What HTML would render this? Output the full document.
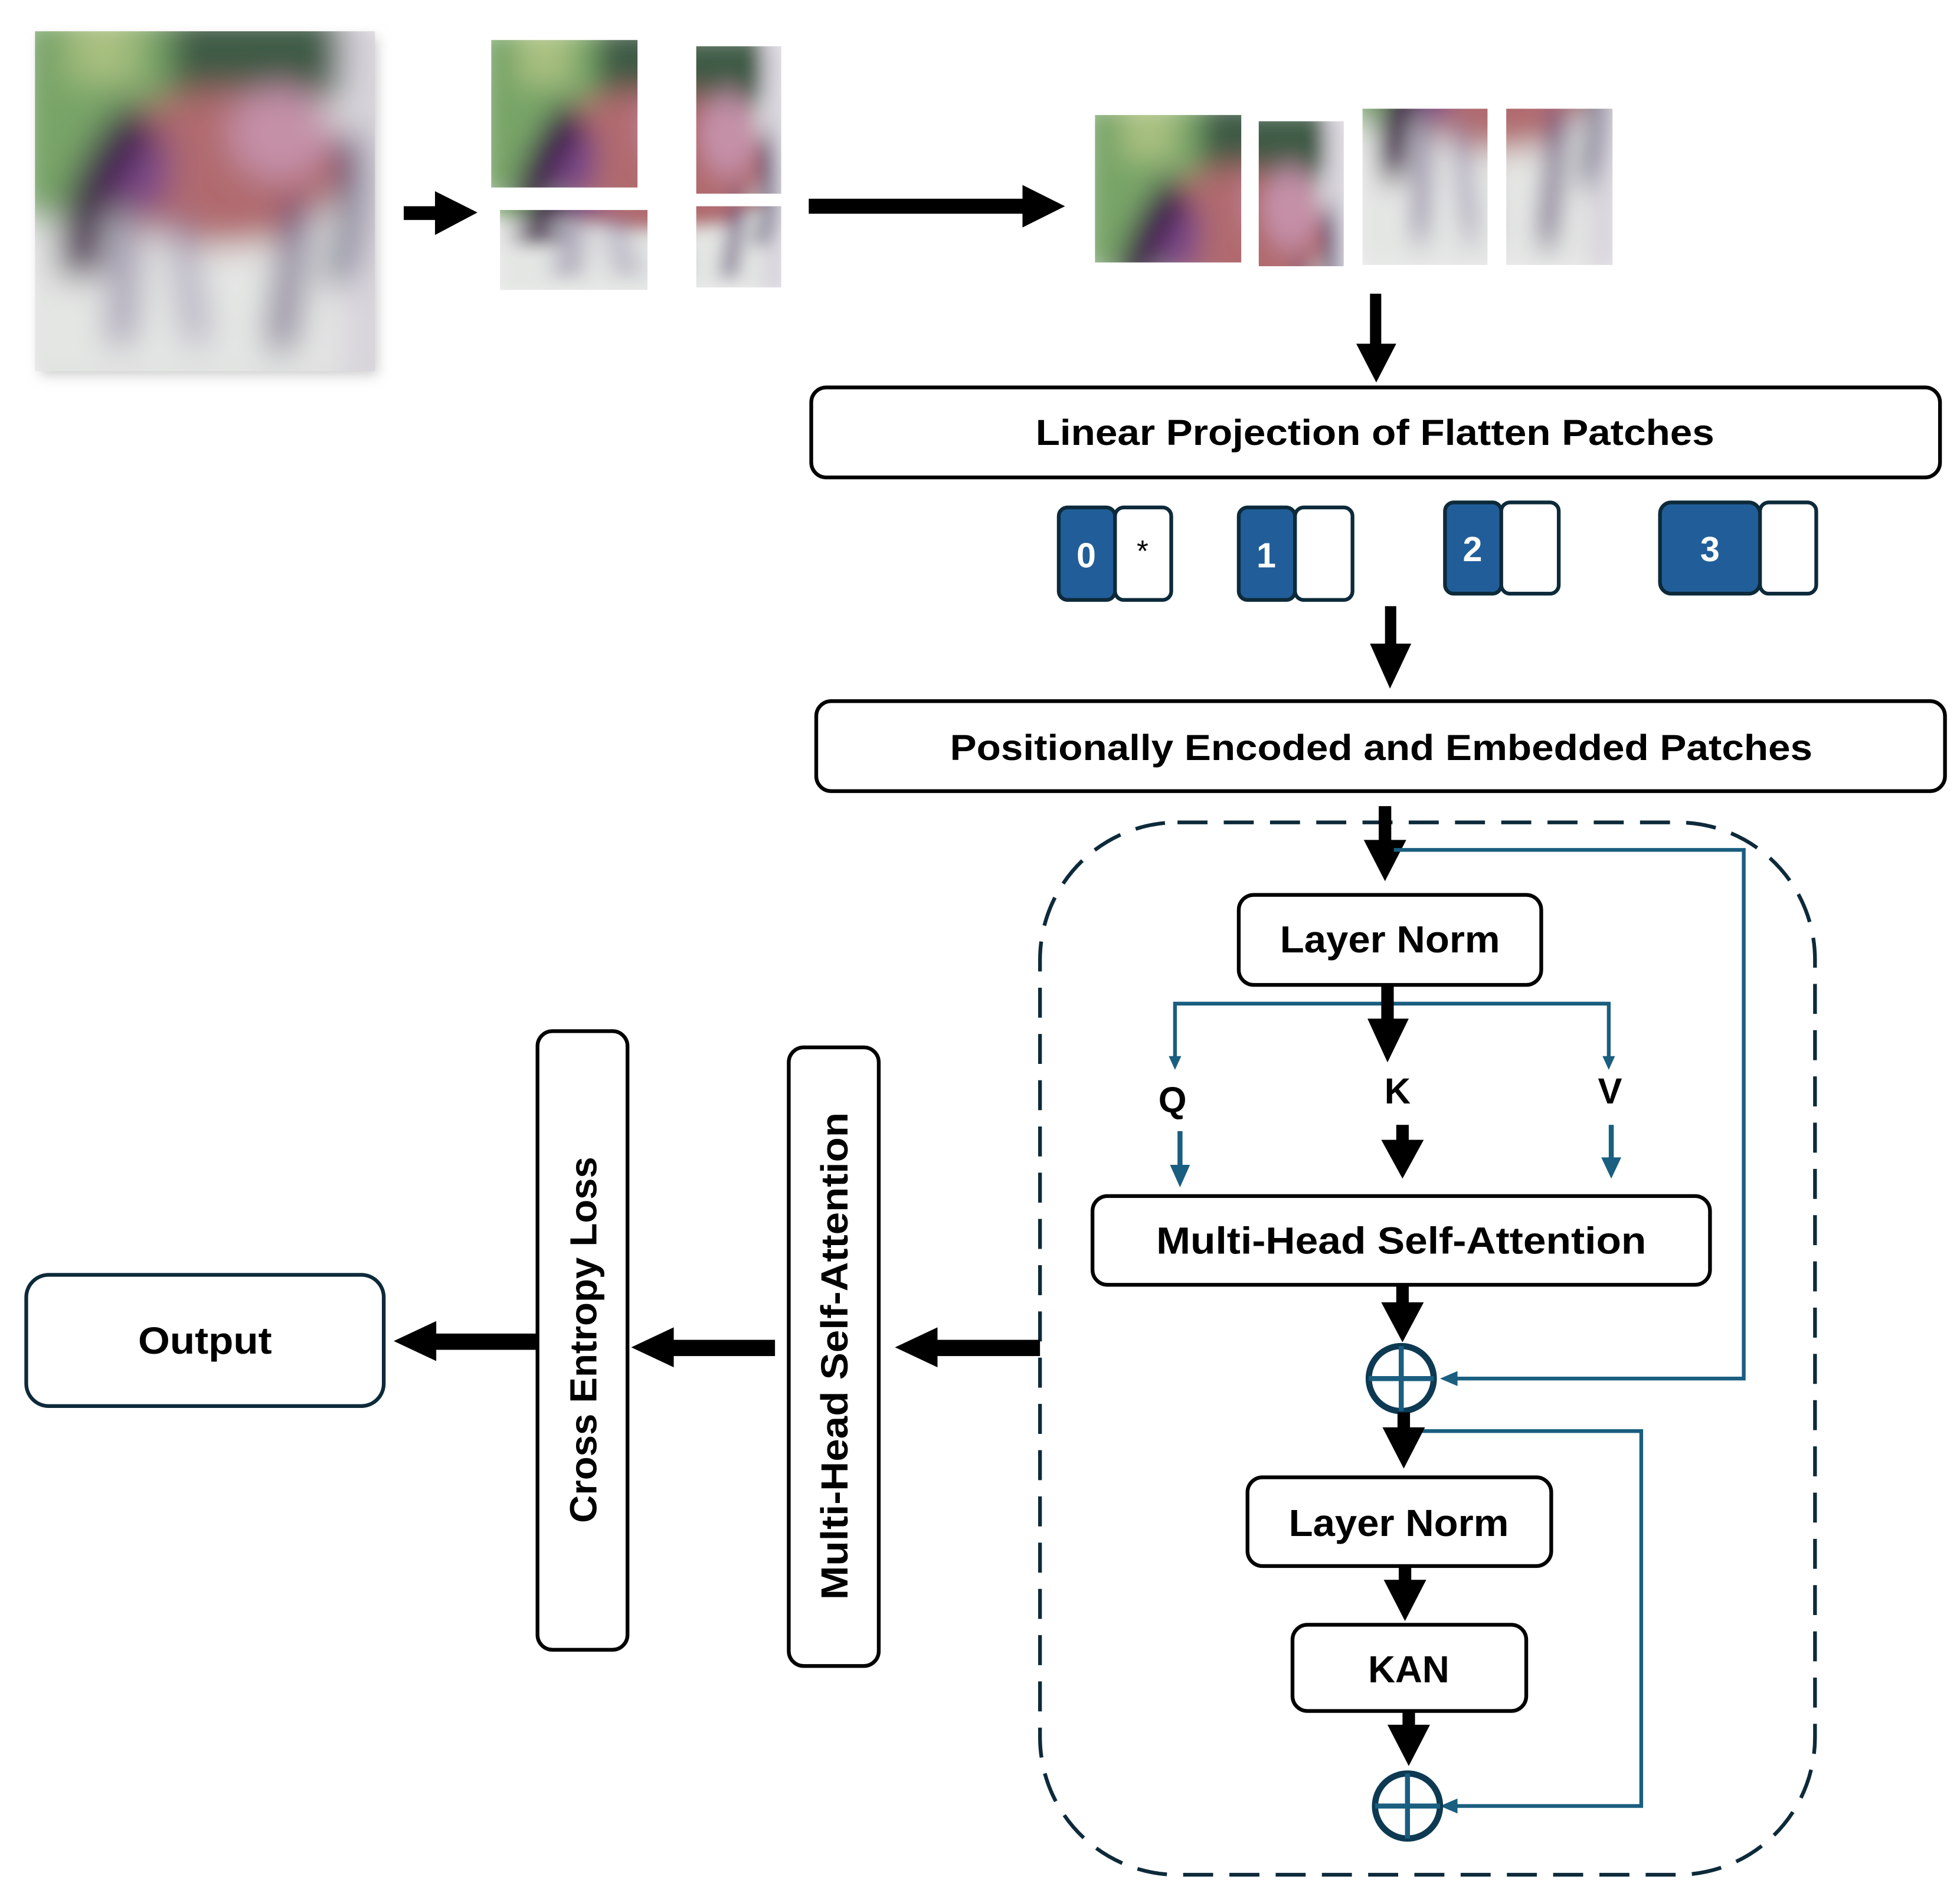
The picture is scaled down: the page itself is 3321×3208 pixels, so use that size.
<!DOCTYPE html>
<html><head><meta charset="utf-8"><style>
html,body{margin:0;padding:0;background:#fff}
svg{display:block}
text{font-family:"Liberation Sans",sans-serif;font-weight:bold;fill:#000}
</style></head><body>
<svg width="3321" height="3208" viewBox="0 0 1568 1514.6" preserveAspectRatio="none" xmlns="http://www.w3.org/2000/svg">
<defs>
<filter id="bl" x="-20%" y="-20%" width="140%" height="140%"><feGaussianBlur stdDeviation="5"/></filter>
<g id="horse">
 <g filter="url(#bl)">
 <rect x="-5" y="-5" width="110" height="110" fill="#e4e6e4"/>
 <rect x="-5" y="-5" width="45" height="60" fill="#78a468"/>
 <rect x="10" y="-5" width="20" height="20" fill="#a8c080"/>
 <rect x="40" y="-5" width="55" height="25" fill="#3e5a44"/>
 <rect x="90" y="-5" width="15" height="110" fill="#d8d4dc"/>
 <ellipse cx="55" cy="40" rx="36" ry="23" fill="#b06a6e"/>
 <ellipse cx="72" cy="30" rx="15" ry="14" fill="#c490a8"/>
 <ellipse cx="30" cy="40" rx="10" ry="14" fill="#7a4a88"/>
 <path d="M32 25 Q12 45 14 72" stroke="#3f1e4a" stroke-width="13" fill="none"/>
 <path d="M28 55 L25 92" stroke="#7c6a98" stroke-width="6" fill="none"/>
 <path d="M42 55 L48 92" stroke="#8d82a8" stroke-width="5" fill="none"/>
 <path d="M78 50 L72 94" stroke="#5a4278" stroke-width="7" fill="none"/>
 <path d="M92 30 Q96 55 88 74" stroke="#2e2a66" stroke-width="6" fill="none"/>
 </g>
</g>
</defs>

<rect x="32" y="30" width="270" height="270" fill="#ccc" filter="url(#bl)"/>
<svg x="28" y="25" width="272" height="272" viewBox="0 0 100 100" preserveAspectRatio="none"><use href="#horse"/></svg>

<svg x="393" y="32" width="117" height="118" viewBox="0 0 55 50" preserveAspectRatio="none"><use href="#horse"/></svg>
<svg x="557" y="37" width="68" height="118" viewBox="55 0 45 50" preserveAspectRatio="none"><use href="#horse"/></svg>
<svg x="400" y="168" width="118" height="64" viewBox="0 50 55 50" preserveAspectRatio="none"><use href="#horse"/></svg>
<svg x="557" y="165" width="68" height="65" viewBox="55 50 45 50" preserveAspectRatio="none"><use href="#horse"/></svg>

<svg x="876" y="92" width="117" height="118" viewBox="0 0 55 50" preserveAspectRatio="none"><use href="#horse"/></svg>
<svg x="1007" y="97" width="68" height="116" viewBox="55 0 45 50" preserveAspectRatio="none"><use href="#horse"/></svg>
<svg x="1090" y="87" width="100" height="125" viewBox="0 50 55 50" preserveAspectRatio="none"><use href="#horse"/></svg>
<svg x="1205" y="87" width="85" height="125" viewBox="55 50 45 50" preserveAspectRatio="none"><use href="#horse"/></svg>

<rect x="323" y="165" width="30" height="11" fill="#000"/>
<polygon points="348,153 382,170 348,188" fill="#000"/>
<rect x="647" y="159" width="178" height="12" fill="#000"/>
<polygon points="818,148 852,165 818,182" fill="#000"/>
<rect x="1096" y="235" width="9" height="45" fill="#000"/>
<polygon points="1085,275 1117,275 1101,306" fill="#000"/>

<rect x="649" y="310" width="903" height="72" rx="12" fill="#fff" stroke="#000" stroke-width="3"/>
<text x="1100" y="356" font-size="29" text-anchor="middle" textLength="543" lengthAdjust="spacingAndGlyphs">Linear Projection of Flatten Patches</text>

<g stroke="#0d2a3a" stroke-width="3">
<rect x="847" y="406" width="45" height="74" rx="7" fill="#215e99"/>
<rect x="892" y="406" width="45" height="74" rx="7" fill="#fff"/>
<rect x="991" y="406" width="45" height="74" rx="7" fill="#215e99"/>
<rect x="1036" y="406" width="46" height="74" rx="7" fill="#fff"/>
<rect x="1156" y="402" width="45" height="73" rx="7" fill="#215e99"/>
<rect x="1201" y="402" width="46" height="73" rx="7" fill="#fff"/>
<rect x="1328" y="402" width="80" height="73" rx="9" fill="#215e99"/>
<rect x="1408" y="402" width="45" height="73" rx="7" fill="#fff"/>
</g>
<text x="869" y="454" font-size="28" text-anchor="middle" style="fill:#fff">0</text>
<text x="914" y="449" font-size="24" text-anchor="middle" style="font-weight:normal">*</text>
<text x="1013" y="454" font-size="28" text-anchor="middle" style="fill:#fff">1</text>
<text x="1178" y="449" font-size="28" text-anchor="middle" style="fill:#fff">2</text>
<text x="1368" y="449" font-size="28" text-anchor="middle" style="fill:#fff">3</text>

<rect x="1108" y="485" width="9" height="35" fill="#000"/>
<polygon points="1096,515 1129,515 1112,551" fill="#000"/>

<rect x="653" y="561" width="903" height="72" rx="12" fill="#fff" stroke="#000" stroke-width="3"/>
<text x="1105" y="608" font-size="29" text-anchor="middle" textLength="690" lengthAdjust="spacingAndGlyphs">Positionally Encoded and Embedded Patches</text>

<rect x="832" y="658" width="620" height="842" rx="110" fill="none" stroke="#0d2a3a" stroke-width="3" stroke-dasharray="24 13"/>

<rect x="1103" y="645" width="10" height="32" fill="#000"/>
<polygon points="1091,672 1125,672 1108,705" fill="#000"/>

<polyline points="1115,680 1395,680 1395,1103 1162,1103" fill="none" stroke="#1a5e80" stroke-width="3"/>
<polygon points="1152,1103 1166,1097 1166,1109" fill="#1a5e80"/>

<rect x="991" y="716" width="242" height="72" rx="12" fill="#fff" stroke="#000" stroke-width="3"/>
<text x="1112" y="762" font-size="30" text-anchor="middle" textLength="176" lengthAdjust="spacingAndGlyphs">Layer Norm</text>

<polyline points="940,852 940,803 1287,803 1287,852" fill="none" stroke="#1a5e80" stroke-width="3"/>
<polygon points="935,845 945,845 940,856" fill="#1a5e80"/>
<polygon points="1282,845 1292,845 1287,856" fill="#1a5e80"/>
<rect x="1105" y="788" width="10" height="30" fill="#000"/>
<polygon points="1094,815 1127,815 1110,850" fill="#000"/>
<text x="938" y="890" font-size="29" text-anchor="middle">Q</text>
<text x="1118" y="883" font-size="29" text-anchor="middle">K</text>
<text x="1288" y="883" font-size="29" text-anchor="middle">V</text>
<rect x="942" y="905" width="4" height="33" fill="#1a5e80"/>
<polygon points="936,932 952,932 944,950" fill="#1a5e80"/>
<rect x="1117" y="900" width="10" height="15" fill="#000"/>
<polygon points="1105,912 1139,912 1122,943" fill="#000"/>
<rect x="1287" y="900" width="4" height="30" fill="#1a5e80"/>
<polygon points="1281,926 1297,926 1289,943" fill="#1a5e80"/>

<rect x="874" y="957" width="494" height="71" rx="12" fill="#fff" stroke="#000" stroke-width="3"/>
<text x="1121" y="1003" font-size="30" text-anchor="middle" textLength="392" lengthAdjust="spacingAndGlyphs">Multi-Head Self-Attention</text>

<rect x="1117" y="1028" width="10" height="18" fill="#000"/>
<polygon points="1105,1042 1139,1042 1122,1074" fill="#000"/>

<circle cx="1121" cy="1103" r="26" fill="#fff" stroke="#0d3a52" stroke-width="5"/>
<line x1="1095" y1="1103" x2="1147" y2="1103" stroke="#1a5e80" stroke-width="4"/>
<line x1="1121" y1="1077" x2="1121" y2="1129" stroke="#1a5e80" stroke-width="4"/>

<polyline points="1125,1145 1313,1145 1313,1445 1162,1445" fill="none" stroke="#1a5e80" stroke-width="3"/>
<polygon points="1152,1445 1166,1439 1166,1451" fill="#1a5e80"/>

<rect x="1118" y="1130" width="10" height="16" fill="#000"/>
<polygon points="1106,1142 1140,1142 1123,1175" fill="#000"/>

<rect x="998" y="1182" width="243" height="71" rx="12" fill="#fff" stroke="#000" stroke-width="3"/>
<text x="1119" y="1229" font-size="30" text-anchor="middle" textLength="176" lengthAdjust="spacingAndGlyphs">Layer Norm</text>

<rect x="1119" y="1253" width="10" height="14" fill="#000"/>
<polygon points="1107,1264 1141,1264 1124,1297" fill="#000"/>

<rect x="1034" y="1300" width="187" height="69" rx="12" fill="#fff" stroke="#000" stroke-width="3"/>
<text x="1127" y="1346" font-size="30" text-anchor="middle">KAN</text>

<rect x="1122" y="1369" width="10" height="14" fill="#000"/>
<polygon points="1110,1380 1144,1380 1127,1413" fill="#000"/>

<circle cx="1126" cy="1445" r="26" fill="#fff" stroke="#0d3a52" stroke-width="5"/>
<line x1="1100" y1="1445" x2="1152" y2="1445" stroke="#1a5e80" stroke-width="4"/>
<line x1="1126" y1="1419" x2="1126" y2="1471" stroke="#1a5e80" stroke-width="4"/>

<rect x="745" y="1072" width="87" height="13" fill="#000"/>
<polygon points="716,1078 750,1062 750,1094" fill="#000"/>
<rect x="532" y="1072" width="88" height="13" fill="#000"/>
<polygon points="505,1078 539,1062 539,1094" fill="#000"/>
<rect x="342" y="1067" width="88" height="13" fill="#000"/>
<polygon points="315,1073 349,1057 349,1089" fill="#000"/>

<rect x="631" y="838" width="72" height="495" rx="12" fill="#fff" stroke="#000" stroke-width="3"/>
<text transform="translate(678,1085) rotate(-90)" font-size="30" text-anchor="middle" textLength="390" lengthAdjust="spacingAndGlyphs">Multi-Head Self-Attention</text>
<rect x="430" y="825" width="72" height="495" rx="12" fill="#fff" stroke="#000" stroke-width="3"/>
<text transform="translate(477,1072) rotate(-90)" font-size="30" text-anchor="middle" textLength="293" lengthAdjust="spacingAndGlyphs">Cross Entropy Loss</text>

<rect x="21" y="1020" width="286" height="105" rx="18" fill="#fff" stroke="#0d2a3a" stroke-width="3"/>
<text x="164" y="1083" font-size="30" text-anchor="middle" textLength="107" lengthAdjust="spacingAndGlyphs">Output</text>
</svg>
</body></html>
